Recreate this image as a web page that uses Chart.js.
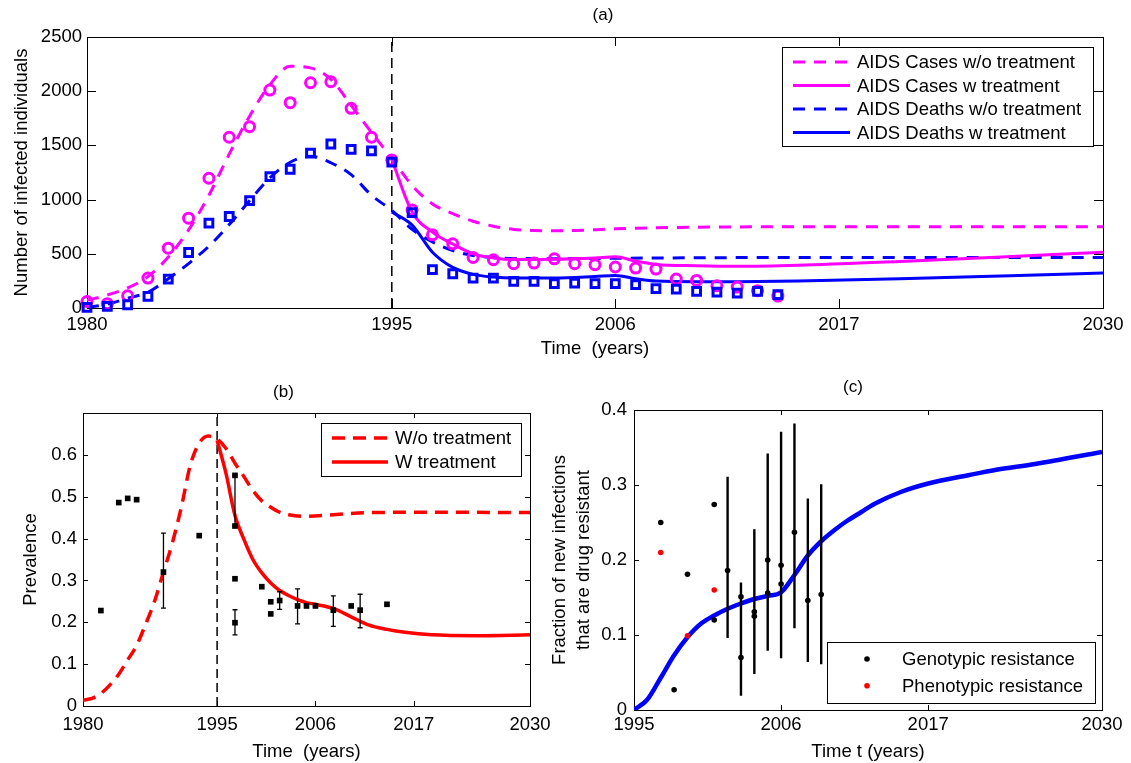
<!DOCTYPE html>
<html>
<head>
<meta charset="utf-8">
<title>AIDS model figure</title>
<script src="https://cdn.jsdelivr.net/npm/chart.js@4.4.1/dist/chart.umd.min.js"></script>
<style>
  html, body { margin: 0; padding: 0; background: #fff; }
  #page { position: relative; width: 1131px; height: 763px; overflow: hidden; background: #fff; }
  canvas { position: absolute; }
</style>
</head>
<body>
<div id="page">
  <canvas id="chartA" width="1131" height="370" style="left:0;top:0"></canvas>
  <canvas id="chartB" width="570" height="393" style="left:0;top:370px"></canvas>
  <canvas id="chartC" width="601" height="393" style="left:530px;top:370px"></canvas>
</div>
<script>
// ---------- panel (a): AIDS cases / deaths ----------
const obsYears = [1980, 1981, 1982, 1983, 1984, 1985, 1986, 1987, 1988, 1989,
                  1990, 1991, 1992, 1993, 1994, 1995, 1996, 1997, 1998, 1999,
                  2000, 2001, 2002, 2003, 2004, 2005, 2006, 2007, 2008, 2009,
                  2010, 2011, 2012, 2013, 2014];
const casesObs = [60, 40, 113, 276, 552, 829, 1197, 1575, 1673, 2010,
                  1894, 2078, 2087, 1842, 1575, 1366, 905, 675, 592, 466,
                  445, 408, 414, 454, 408, 399, 378, 368, 359, 267,
                  254, 205, 193, 160, 110];
const deathsObs = [5, 15, 30, 107, 267, 512, 783, 844, 991, 1212,
                   1280, 1428, 1513, 1464, 1449, 1345, 880, 353, 316, 276,
                   276, 245, 245, 224, 230, 224, 224, 215, 178, 175,
                   153, 147, 138, 153, 123];

const casesNoTxYears = [1980, 1981, 1982, 1983, 1984, 1985, 1986, 1987, 1988, 1989, 1990, 1991,
                        1992, 1993, 1994, 1995, 1996, 1997, 1998, 1999, 2000, 2001, 2002, 2003,
                        2004, 2006, 2008, 2010, 2015, 2020, 2025, 2030];
const casesNoTx = [70, 120, 185, 290, 470, 720, 1040, 1420, 1770, 2060, 2230, 2215,
                   2110, 1870, 1620, 1380, 1130, 960, 870, 800, 755, 725, 715, 712,
                   715, 730, 740, 745, 750, 750, 750, 750];

const casesTxYears = [1995, 1996, 1997, 1998, 1999, 2000, 2001, 2003, 2005, 2006,
                      2007, 2008, 2010, 2012, 2015, 2020, 2025, 2030];
const casesTx = [1370, 885, 700, 590, 500, 462, 448, 450, 462, 472,
                 432, 402, 390, 385, 395, 430, 470, 515];

const deathsNoTxYears = [1980, 1981, 1982, 1983, 1984, 1985, 1986, 1987, 1988, 1989, 1990, 1991,
                         1992, 1993, 1994, 1995, 1996, 1997, 1998, 1999, 2000, 2001, 2003, 2005,
                         2008, 2012, 2020, 2030];
const deathsNoTx = [5, 35, 90, 145, 270, 410, 570, 770, 990, 1200, 1345, 1400,
                    1340, 1230, 1040, 900, 725, 610, 530, 485, 465, 457, 455, 457,
                    461, 465, 467, 467];

const deathsTxYears = [1995, 1996, 1997, 1998, 1999, 2000, 2001, 2003, 2005, 2006,
                       2007, 2008, 2010, 2012, 2015, 2020, 2025, 2030];
const deathsTx = [885, 765, 515, 375, 310, 285, 276, 276, 290, 300,
                  270, 248, 242, 243, 250, 270, 295, 322];

const xTicksA = [1980, 1995, 2006, 2017, 2030];
const yTicksA = [0, 500, 1000, 1500, 2000, 2500];

// ---------- panel (b): prevalence ----------
const prevObsYears = [1982, 1984, 1985, 1986, 1989, 1993, 1997, 1997, 1997, 1997, 2000,
                      2001, 2001, 2002, 2004, 2005, 2006, 2008, 2010, 2011, 2014];
const prevObs = [0.228, 0.486, 0.496, 0.493, 0.320, 0.407, 0.551, 0.430, 0.304, 0.199, 0.285,
                 0.249, 0.220, 0.252, 0.239, 0.239, 0.239, 0.229, 0.239, 0.229, 0.243];
const prevErrYears = [1989, 1997, 1997, 2002, 2004, 2008, 2011];
const prevErrLow = [0.234, 0.430, 0.170, 0.231, 0.196, 0.190, 0.187];
const prevErrHigh = [0.413, 0.551, 0.230, 0.273, 0.280, 0.263, 0.267];

const prevNoTxYears = [1980, 1981, 1982, 1983, 1984, 1985, 1986, 1987, 1988, 1989, 1990, 1991,
                       1992, 1993, 1994, 1995, 1996, 1997, 1998, 1999, 2000, 2001, 2002, 2003,
                       2005, 2008, 2012, 2020, 2030];
const prevNoTx = [0.014, 0.018, 0.030, 0.050, 0.076, 0.110, 0.145, 0.195, 0.250, 0.320, 0.390, 0.475,
                  0.575, 0.628, 0.645, 0.638, 0.615, 0.580, 0.548, 0.515, 0.490, 0.475, 0.463, 0.457,
                  0.453, 0.457, 0.462, 0.463, 0.462];
const prevTxYears = [1995, 1996, 1997, 1998, 1999, 2000, 2001, 2002, 2003, 2004,
                     2005, 2006, 2008, 2010, 2012, 2014, 2016, 2019, 2024, 2030];
const prevTx = [0.635, 0.555, 0.455, 0.398, 0.350, 0.318, 0.294, 0.276, 0.264, 0.254,
                0.247, 0.243, 0.233, 0.213, 0.193, 0.183, 0.176, 0.170, 0.168, 0.170];

const xTicksB = [1980, 1995, 2006, 2017, 2030];
const yTicksB = [0, 0.1, 0.2, 0.3, 0.4, 0.5, 0.6];

// ---------- panel (c): drug resistance ----------
const genoYears = [1997, 1998, 1999, 2001, 2001, 2002, 2003, 2003, 2004, 2004,
                   2005, 2005, 2006, 2006, 2007, 2008, 2009];
const geno = [0.250, 0.027, 0.181, 0.274, 0.120, 0.186, 0.151, 0.070, 0.131, 0.125,
              0.200, 0.156, 0.193, 0.168, 0.237, 0.146, 0.154];
const phenoYears = [1997, 1999, 2001];
const pheno = [0.210, 0.099, 0.160];
const genoErrYears = [2002, 2003, 2004, 2005, 2006, 2007, 2008, 2009];
const genoErrLow = [0.096, 0.019, 0.048, 0.079, 0.069, 0.109, 0.064, 0.061];
const genoErrHigh = [0.311, 0.170, 0.241, 0.342, 0.371, 0.382, 0.282, 0.301];

const resistYears = [1995, 1996, 1997, 1998, 1999, 2000, 2001, 2002, 2003, 2004, 2005, 2006, 2007,
                     2008, 2009, 2010, 2011, 2012, 2013, 2015, 2017, 2020, 2022, 2025, 2030];
const resistFrac = [0, 0.014, 0.043, 0.073, 0.097, 0.115, 0.126, 0.135, 0.142, 0.148, 0.152, 0.157, 0.180,
                    0.206, 0.225, 0.240, 0.253, 0.264, 0.275, 0.291, 0.302, 0.313, 0.320, 0.328, 0.344];

const xTicksC = [1995, 2006, 2017, 2030];
const yTicksC = [0, 0.1, 0.2, 0.3, 0.4];

const MAGENTA = '#ff00ff';
const BLUE = '#0000ff';
const RED = '#ff0000';
const FONT = "'Liberation Sans', Arial, sans-serif";

Chart.defaults.font.family = FONT;
Chart.defaults.font.size = 18.5;
Chart.defaults.color = '#000';

function pts(xs, ys) {
    return xs.map((x, i) => ({ x: x, y: ys[i] }));
}

function curve(label, xs, ys, color, dash, width) {
    return {
        label: label,
        data: pts(xs, ys),
        borderColor: color,
        borderWidth: width,
        borderDash: dash,
        pointRadius: 0,
        fill: false,
        cubicInterpolationMode: 'monotone',
        legendKind: 'line'
    };
}

function markers(label, xs, ys, style, radius, stroke, fillColor, lineW) {
    return {
        label: label,
        data: pts(xs, ys),
        showLine: false,
        pointStyle: style,
        pointRadius: radius,
        borderColor: stroke,
        backgroundColor: fillColor,
        pointBorderWidth: lineW,
        borderWidth: lineW,
        clip: false,
        legendKind: 'point'
    };
}

// MATLAB-like decoration: box, inward ticks, error bars, inset legend, title
const panelDecor = {
    id: 'panelDecor',
    beforeDatasetsDraw(chart, args, opts) {
        const { ctx, chartArea: a, scales } = chart;
        ctx.save();
        ctx.strokeStyle = '#000';
        ctx.lineWidth = 1;
        ctx.strokeRect(Math.round(a.left) + 0.5, Math.round(a.top) + 0.5,
                       Math.round(a.right - a.left), Math.round(a.bottom - a.top));
        const tl = opts.tickLen;
        ctx.beginPath();
        scales.x.ticks.forEach(t => {
            const px = Math.round(scales.x.getPixelForValue(t.value)) + 0.5;
            ctx.moveTo(px, a.bottom); ctx.lineTo(px, a.bottom - tl);
            ctx.moveTo(px, a.top); ctx.lineTo(px, a.top + tl);
        });
        scales.y.ticks.forEach(t => {
            const py = Math.round(scales.y.getPixelForValue(t.value)) + 0.5;
            ctx.moveTo(a.left, py); ctx.lineTo(a.left + tl, py);
            ctx.moveTo(a.right, py); ctx.lineTo(a.right - tl, py);
        });
        ctx.stroke();
        ctx.restore();
    },
    afterDatasetsDraw(chart, args, opts) {
        const { ctx, chartArea: a, scales } = chart;
        ctx.save();
        // error bars
        const eb = opts.errorBars;
        if (eb) {
            ctx.strokeStyle = '#000';
            ctx.lineWidth = eb.width;
            ctx.setLineDash([]);
            ctx.beginPath();
            eb.xs.forEach((x, i) => {
                const px = scales.x.getPixelForValue(x);
                const lo = scales.y.getPixelForValue(eb.lows[i]);
                const hi = scales.y.getPixelForValue(eb.highs[i]);
                ctx.moveTo(px, lo); ctx.lineTo(px, hi);
                if (eb.cap) {
                    ctx.moveTo(px - eb.cap, lo); ctx.lineTo(px + eb.cap, lo);
                    ctx.moveTo(px - eb.cap, hi); ctx.lineTo(px + eb.cap, hi);
                }
            });
            ctx.stroke();
        }
        // legend inside the axes
        const L = opts.legend;
        if (L) {
            const items = chart.data.datasets.filter(d => d.label);
            const x0 = a.right - L.right - L.width;
            const y0 = L.top != null ? a.top + L.top : a.bottom - L.bottom - L.height;
            ctx.fillStyle = '#fff';
            ctx.fillRect(x0, y0, L.width, L.height);
            ctx.strokeStyle = '#000';
            ctx.lineWidth = 1;
            ctx.setLineDash([]);
            ctx.strokeRect(Math.round(x0) + 0.5, Math.round(y0) + 0.5, L.width, L.height);
            ctx.font = '18.5px ' + FONT;
            ctx.textBaseline = 'middle';
            ctx.textAlign = 'left';
            items.forEach((d, i) => {
                const cy = y0 + L.first + i * L.rowH;
                if (d.legendKind === 'line') {
                    ctx.strokeStyle = d.borderColor;
                    ctx.lineWidth = d.borderWidth;
                    ctx.setLineDash(d.borderDash || []);
                    ctx.beginPath();
                    ctx.moveTo(x0 + L.sampleX, cy);
                    ctx.lineTo(x0 + L.sampleX + L.sampleLen, cy);
                    ctx.stroke();
                    ctx.setLineDash([]);
                } else {
                    ctx.fillStyle = d.backgroundColor;
                    ctx.beginPath();
                    ctx.arc(x0 + L.markX, cy, d.pointRadius, 0, Math.PI * 2);
                    ctx.fill();
                }
                ctx.fillStyle = '#000';
                ctx.fillText(d.label, x0 + L.textX, cy + 1);
            });
        }
        // panel title
        const T = opts.title;
        if (T) {
            ctx.fillStyle = '#000';
            ctx.font = '17px ' + FONT;
            ctx.textAlign = 'center';
            ctx.textBaseline = 'middle';
            ctx.fillText(T.text, (a.left + a.right) / 2 + T.dx, a.top - T.dy);
        }
        ctx.restore();
    }
};

function axes(o) {
    return {
        x: {
            type: 'linear', min: o.xMin, max: o.xMax,
            afterBuildTicks: s => { s.ticks = o.xTicks.map(v => ({ value: v })); },
            afterFit: s => { s.height = o.xH; },
            grid: { display: false, drawTicks: false },
            border: { display: false },
            ticks: { padding: o.xPad, maxRotation: 0, autoSkip: false, callback: v => String(v) },
            title: { display: true, text: o.xTitle, padding: { top: 0, bottom: o.xTitlePad } }
        },
        y: {
            type: 'linear', min: o.yMin, max: o.yMax,
            afterBuildTicks: s => { s.ticks = o.yTicks.map(v => ({ value: v })); },
            afterFit: s => { s.width = o.yW; },
            grid: { display: false, drawTicks: false },
            border: { display: false },
            ticks: { padding: o.yPad, autoSkip: false, callback: v => String(v) },
            title: {
                display: true, text: o.yTitle,
                font: { size: 18.5, lineHeight: 1.3 },
                padding: { top: o.yTitlePad, bottom: 0 }
            }
        }
    };
}

function baseOptions(pad, scales, decor) {
    return {
        responsive: false,
        animation: false,
        devicePixelRatio: 1,
        events: [],
        layout: { padding: pad },
        scales: scales,
        plugins: {
            legend: { display: false },
            tooltip: { enabled: false },
            title: { display: false },
            panelDecor: decor
        }
    };
}

// panel (a)
new Chart(document.getElementById('chartA'), {
    type: 'line',
    data: {
        datasets: [
            markers(undefined, obsYears, deathsObs, 'rect', 5.5, BLUE, 'rgba(0,0,0,0)', 3),
            markers(undefined, obsYears, casesObs, 'circle', 5, MAGENTA, 'rgba(0,0,0,0)', 3),
            curve('AIDS Cases w/o treatment', casesNoTxYears, casesNoTx, MAGENTA, [12, 9], 3),
            curve('AIDS Cases w treatment', casesTxYears, casesTx, MAGENTA, [], 3),
            curve('AIDS Deaths w/o treatment', deathsNoTxYears, deathsNoTx, BLUE, [12, 9], 3),
            curve('AIDS Deaths w treatment', deathsTxYears, deathsTx, BLUE, [], 3),
            Object.assign(curve(undefined, [1995, 1995], [0, 2500], '#000', [10, 6], 1.5),
                          { cubicInterpolationMode: 'default' })
        ]
    },
    options: baseOptions({ left: 0, top: 37, right: 28, bottom: 0 }, axes({
        xMin: 1980, xMax: 2030, xTicks: xTicksA, xH: 62, xPad: 6,
        xTitle: 'Time  (years)', xTitlePad: 10,
        yMin: 0, yMax: 2500, yTicks: yTicksA, yW: 87, yPad: 5,
        yTitle: 'Number of infected individuals', yTitlePad: 10
    }), {
        tickLen: 9,
        legend: { right: 10, top: 10, width: 311, height: 99, first: 15, rowH: 23.5,
                  sampleX: 11, sampleLen: 57, textX: 75 },
        title: { text: '(a)', dx: 8, dy: 22 }
    }),
    plugins: [panelDecor]
});

// panel (b)
new Chart(document.getElementById('chartB'), {
    type: 'line',
    data: {
        datasets: [
            markers(undefined, prevObsYears, prevObs, 'rect', 4, '#000', '#000', 0),
            curve('W/o treatment', prevNoTxYears, prevNoTx, RED, [13, 8], 3.5),
            curve('W treatment', prevTxYears, prevTx, RED, [], 3.5),
            Object.assign(curve(undefined, [1995, 1995], [0, 0.7], '#000', [9, 5], 1.5),
                          { cubicInterpolationMode: 'default' })
        ]
    },
    options: baseOptions({ left: 0, top: 43, right: 40, bottom: 0 }, axes({
        xMin: 1980, xMax: 2030, xTicks: xTicksB, xH: 57, xPad: 8,
        xTitle: 'Time  (years)', xTitlePad: 0,
        yMin: 0, yMax: 0.7, yTicks: yTicksB, yW: 83, yPad: 6,
        yTitle: 'Prevalence', yTitlePad: 19
    }), {
        tickLen: 5,
        errorBars: { xs: prevErrYears, lows: prevErrLow, highs: prevErrHigh, width: 1.3, cap: 2.5 },
        legend: { right: 9, top: 10, width: 200, height: 53, first: 15, rowH: 24,
                  sampleX: 11, sampleLen: 56, textX: 74 },
        title: { text: '(b)', dx: -23, dy: 21 }
    }),
    plugins: [panelDecor]
});

// panel (c)
new Chart(document.getElementById('chartC'), {
    type: 'line',
    data: {
        datasets: [
            markers('Genotypic resistance', genoYears, geno, 'circle', 2.8, '#000', '#000', 0),
            markers('Phenotypic resistance', phenoYears, pheno, 'circle', 2.8, RED, RED, 0),
            Object.assign(curve(undefined, resistYears, resistFrac, BLUE, [], 4.5))
        ]
    },
    options: baseOptions({ left: 0, top: 40, right: 29, bottom: 0 }, axes({
        xMin: 1995, xMax: 2030, xTicks: xTicksC, xH: 53, xPad: 4,
        xTitle: 'Time t (years)', xTitlePad: 0,
        yMin: 0, yMax: 0.4, yTicks: yTicksC, yW: 104, yPad: 7,
        yTitle: ['Fraction of new infections', 'that are drug resistant'], yTitlePad: 18
    }), {
        tickLen: 5,
        errorBars: { xs: genoErrYears, lows: genoErrLow, highs: genoErrHigh, width: 2.4, cap: 0 },
        legend: { right: 7, bottom: 7, width: 268, height: 61, first: 17, rowH: 26.7,
                  markX: 40, textX: 75 },
        title: { text: '(c)', dx: -15, dy: 23 }
    }),
    plugins: [panelDecor]
});
</script>
</body>
</html>
